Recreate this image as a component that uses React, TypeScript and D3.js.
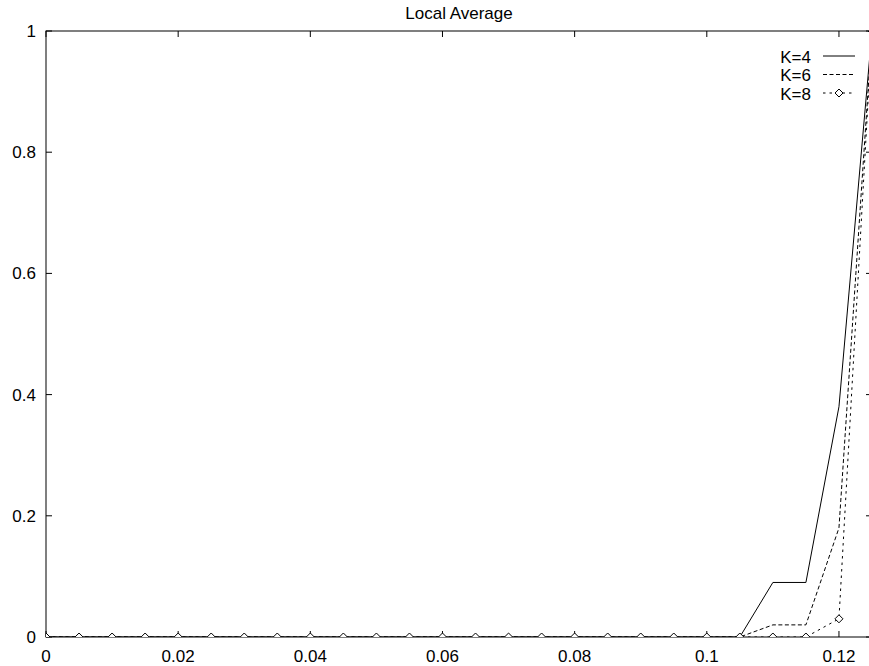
import React from "react";
import * as d3 from "d3";

const xValues = [0, 0.005, 0.01, 0.015, 0.02, 0.025, 0.03, 0.035, 0.04, 0.045, 0.05, 0.055, 0.06, 0.065, 0.07, 0.075, 0.08, 0.085, 0.09, 0.095, 0.1, 0.105, 0.11, 0.115, 0.12, 0.125];
const k4 = [0, 0, 0, 0, 0, 0, 0, 0, 0, 0, 0, 0, 0, 0, 0, 0, 0, 0, 0, 0, 0, 0, 0.09, 0.09, 0.38, 1.0];
const k6 = [0, 0, 0, 0, 0, 0, 0, 0, 0, 0, 0, 0, 0, 0, 0, 0, 0, 0, 0, 0, 0, 0, 0.02, 0.02, 0.18, 1.0];
const k8 = [0, 0, 0, 0, 0, 0, 0, 0, 0, 0, 0, 0, 0, 0, 0, 0, 0, 0, 0, 0, 0, 0, 0, 0, 0.03, 1.0];
const xTicks = [0, 0.02, 0.04, 0.06, 0.08, 0.1, 0.12];
const xTickLabels = ["0", "0.02", "0.04", "0.06", "0.08", "0.1", "0.12"];
const yTicks = [0, 0.2, 0.4, 0.6, 0.8, 1];
const yTickLabels = ["0", "0.2", "0.4", "0.6", "0.8", "1"];
const seriesNames = ["K=4", "K=6", "K=8"];
const title = "Local Average";

const W = 869;
const H = 666;
const L = 46, R = 872, T = 31, B = 637;
const FONT = "'Liberation Sans', Arial, Helvetica, sans-serif";

export default function App() {
  const x = d3.scaleLinear().domain([0, 0.125]).range([L, R]);
  const y = d3.scaleLinear().domain([0, 1]).range([B, T]);
  const line = d3.line<[number, number]>().x((d) => x(d[0])).y((d) => y(d[1]));
  const series = [k4, k6, k8].map((vals) => xValues.map((xv, i) => [xv, vals[i]] as [number, number]));
  const dashes = [undefined, "4,2.5", "2.5,4"];
  const tl = 6;
  const diamond = (cx: number, cy: number, s = 4) =>
    `M${cx},${cy - s}L${cx + s},${cy}L${cx},${cy + s}L${cx - s},${cy}Z`;
  const legendY = [56, 74.5, 93];

  return (
    <svg width={W} height={H} style={{ position: "absolute", left: 0, top: 0, display: "block", background: "#fff" }}>
      <defs>
        <clipPath id="plotclip">
          <rect x={L} y={T} width={R - L} height={B - T} />
        </clipPath>
      </defs>
      <rect x={0} y={0} width={W} height={H} fill="#fff" />
      {/* border */}
      <rect x={L} y={T} width={R - L} height={B - T} fill="none" stroke="#000" strokeWidth={1} />
      {/* x ticks */}
      {xTicks.map((t, i) => (
        <g key={"xt" + i}>
          <line x1={x(t)} x2={x(t)} y1={B} y2={B - tl} stroke="#000" />
          <line x1={x(t)} x2={x(t)} y1={T} y2={T + tl} stroke="#000" />
          <text x={x(t)} y={662} textAnchor="middle" fontFamily={FONT} fontSize={17}>
            {xTickLabels[i]}
          </text>
        </g>
      ))}
      {/* y ticks */}
      {yTicks.map((t, i) => (
        <g key={"yt" + i}>
          <line x1={L} x2={L + tl} y1={y(t)} y2={y(t)} stroke="#000" />
          <line x1={R} x2={R - tl} y1={y(t)} y2={y(t)} stroke="#000" />
          <text x={36} y={y(t) + 6} textAnchor="end" fontFamily={FONT} fontSize={17}>
            {yTickLabels[i]}
          </text>
        </g>
      ))}
      {/* title */}
      <text x={(L + R) / 2} y={18.5} textAnchor="middle" fontFamily={FONT} fontSize={17}>
        {title}
      </text>
      {/* series */}
      <g clipPath="url(#plotclip)">
        {series.map((s, i) => (
          <path key={"s" + i} d={line(s) || ""} fill="none" stroke="#000" strokeWidth={1} strokeDasharray={dashes[i]} />
        ))}
        {series[2].map((d, j) => (
          <path key={"m" + j} d={diamond(x(d[0]), y(d[1]))} fill="#fff" stroke="#000" strokeWidth={1} />
        ))}
      </g>
      {/* legend */}
      {seriesNames.map((n, i) => (
        <g key={"lg" + i}>
          <text x={811} y={legendY[i] + 6.5} textAnchor="end" fontFamily={FONT} fontSize={17}>
            {n}
          </text>
          <line x1={823} x2={855} y1={legendY[i]} y2={legendY[i]} stroke="#000" strokeWidth={1} strokeDasharray={dashes[i]} />
          {i === 2 && <path d={diamond(839, legendY[i])} fill="#fff" stroke="#000" strokeWidth={1} />}
        </g>
      ))}
    </svg>
  );
}
